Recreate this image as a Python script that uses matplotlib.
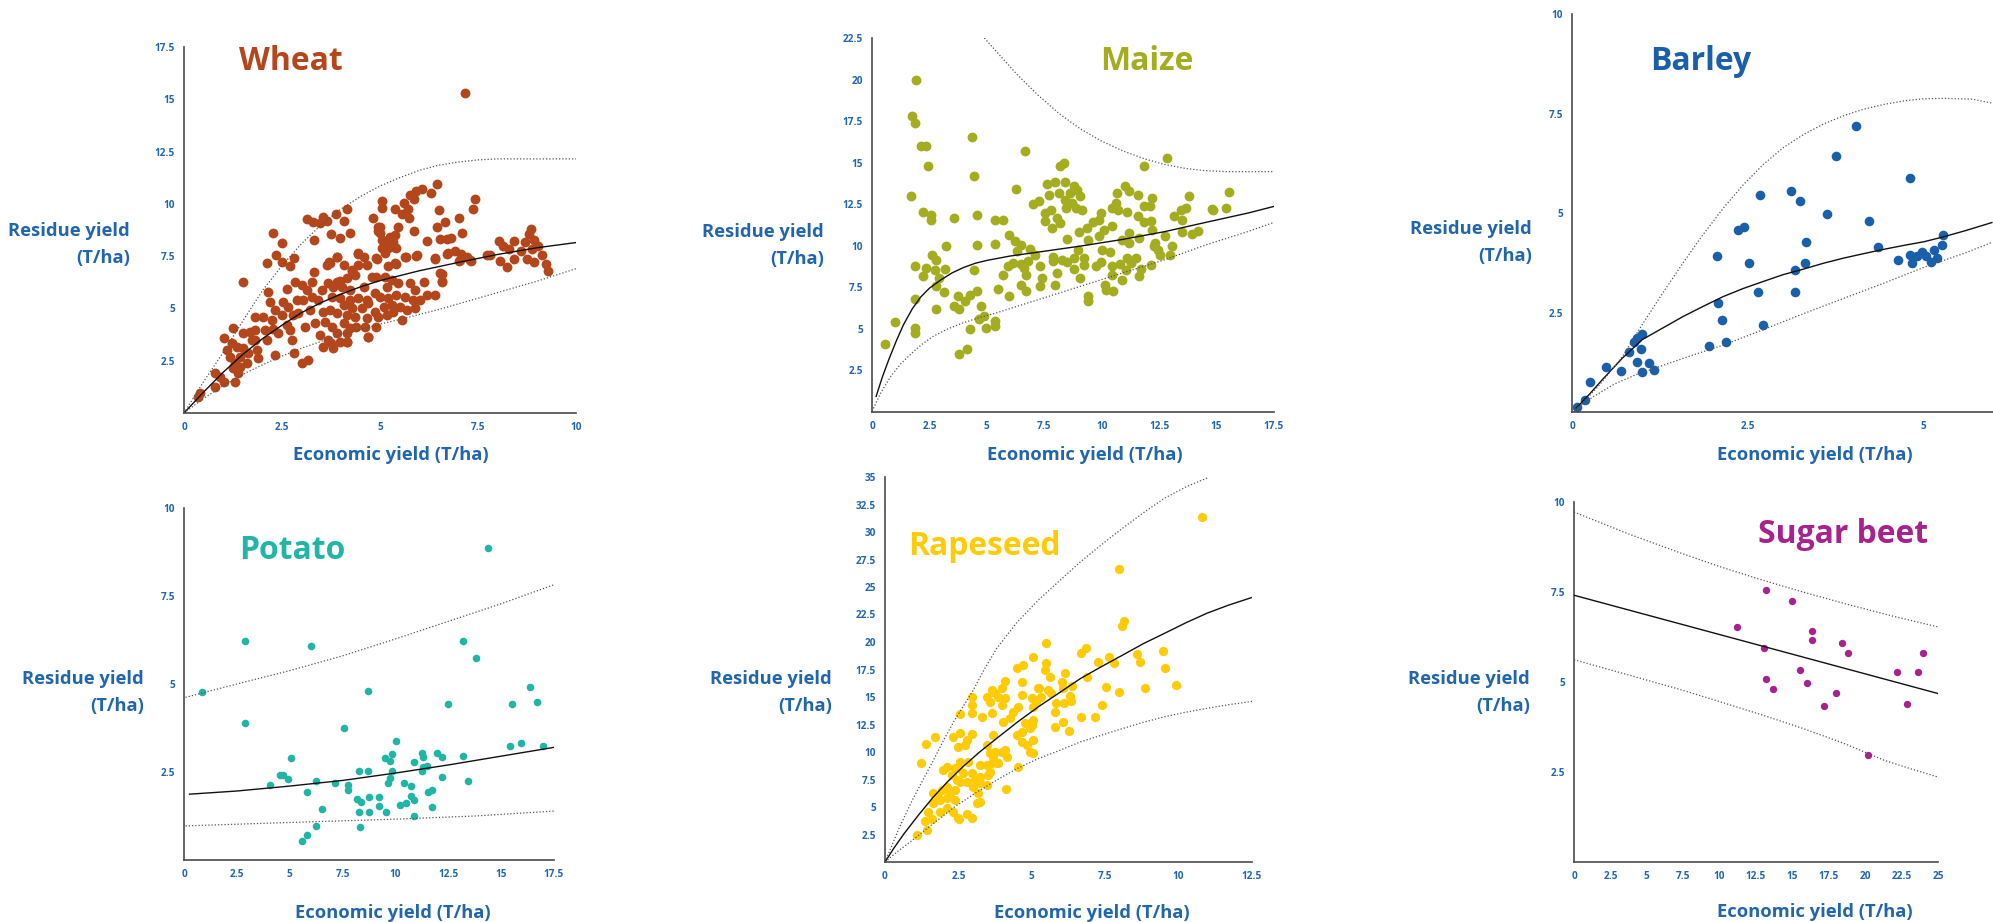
import matplotlib
matplotlib.use('Agg')
import matplotlib.pyplot as plt

W, H = 1993, 922
plt.rcParams['font.family'] = ['Open Sans', 'DejaVu Sans']
BLUE = '#2166ad'

# ---- Wheat ----
wheat_pts = [
    (0.36, 0.78), (0.40, 0.94), (0.79, 1.90), (0.79, 1.26), (1.01, 1.50), (0.92, 1.74), (1.03, 3.57), (1.09, 3.01),
    (1.17, 2.69), (1.26, 2.13), (1.30, 1.50), (1.39, 1.90), (1.34, 3.17), (1.30, 2.37), (1.22, 3.33), (1.43, 2.69),
    (1.51, 3.81), (1.51, 3.09), (1.60, 2.37), (1.64, 2.85), (1.68, 3.89), (1.73, 3.49), (1.43, 2.21), (1.26, 4.08),
    (1.50, 6.28), (1.81, 3.49), (1.85, 3.01), (1.90, 2.61), (2.02, 4.60), (2.07, 3.97), (2.11, 3.49), (2.15, 5.80),
    (2.24, 4.44), (2.28, 4.04), (2.19, 5.32), (2.32, 2.77), (2.41, 3.81), (2.49, 4.68), (2.53, 5.32), (2.62, 4.20),
    (2.66, 5.08), (2.70, 3.97), (2.75, 3.49), (2.81, 2.85), (2.83, 6.28), (2.87, 5.40), (2.92, 4.76), (3.00, 2.37),
    (3.04, 5.40), (3.09, 4.12), (3.13, 5.88), (3.17, 2.53), (3.21, 4.92), (3.26, 6.28), (3.32, 6.75), (3.34, 4.28),
    (3.43, 5.40), (3.47, 3.73), (3.51, 5.88), (3.55, 3.17), (2.13, 7.15), (2.34, 7.55), (2.51, 8.11), (2.28, 8.63),
    (2.51, 7.23), (2.70, 7.02), (2.81, 7.39), (3.13, 9.26), (3.30, 9.15), (3.47, 9.10), (3.32, 8.27), (3.55, 9.35),
    (2.62, 5.95), (3.00, 6.12), (3.26, 5.56), (3.55, 4.84), (2.79, 4.68), (2.32, 4.92), (1.81, 4.60), (1.81, 3.97),
    (3.90, 7.48), (4.45, 7.64), (4.91, 7.40), (5.13, 7.64), (5.38, 7.16), (5.64, 7.48), (5.94, 7.56), (6.40, 7.40),
    (6.74, 7.64), (7.04, 7.32), (7.30, 7.32), (7.72, 7.56), (3.72, 7.16), (3.64, 7.08), (4.07, 7.08), (4.28, 6.84),
    (4.45, 7.08), (4.66, 7.08), (4.79, 6.52), (4.91, 6.52), (5.13, 6.52), (5.30, 6.36), (4.36, 6.60), (4.15, 6.44),
    (3.90, 6.28), (3.68, 6.20), (6.53, 6.68), (6.57, 6.28), (3.81, 6.04), (4.02, 6.04), (4.23, 5.88), (4.58, 6.04),
    (4.87, 5.72), (5.17, 6.04), (5.47, 6.20), (5.77, 6.20), (5.89, 5.88), (6.11, 6.28), (6.19, 5.64), (6.40, 5.64),
    (3.77, 5.56), (3.98, 5.48), (4.23, 5.40), (4.45, 5.48), (4.66, 5.40), (5.00, 5.56), (5.21, 5.48), (5.42, 5.64),
    (5.64, 5.56), (5.85, 5.40), (6.02, 5.40), (4.07, 5.16), (4.28, 5.00), (4.53, 5.00), (4.70, 5.24), (4.87, 4.84),
    (5.09, 5.08), (5.30, 5.16), (5.51, 5.08), (5.68, 4.92), (5.89, 5.00), (3.72, 4.92), (3.90, 4.76), (4.15, 4.68),
    (4.36, 4.60), (4.66, 4.52), (4.96, 4.60), (5.17, 4.68), (5.34, 4.84), (5.55, 4.44), (4.07, 4.29), (4.23, 4.05),
    (4.40, 4.13), (4.62, 4.13), (4.91, 4.13), (3.60, 4.37), (3.77, 4.13), (3.90, 3.81), (4.15, 3.81), (4.70, 3.65),
    (3.68, 3.49), (3.98, 3.41), (3.81, 3.09), (4.15, 3.41),
    (3.65, 9.19), (3.69, 7.20), (3.74, 8.55), (3.74, 3.33), (3.89, 9.50), (3.91, 7.44), (3.97, 8.36), (3.97, 6.33),
    (4.09, 9.19), (4.17, 9.74), (4.15, 3.40), (4.23, 8.63), (4.29, 6.81), (4.44, 7.60), (4.60, 7.44), (4.70, 3.64),
    (4.82, 9.34), (4.92, 7.36), (4.95, 8.71), (5.00, 8.87), (5.05, 10.13), (5.05, 9.82), (5.10, 8.24), (5.15, 8.00),
    (5.20, 7.05), (5.35, 7.92), (5.37, 9.74), (5.40, 7.13), (5.45, 8.87), (5.56, 9.50), (5.61, 10.05), (5.66, 7.44),
    (5.71, 9.74), (5.74, 9.34), (5.76, 10.42), (5.86, 8.71), (5.91, 10.61), (5.86, 10.21), (5.93, 7.52), (6.08, 10.69),
    (6.21, 8.24), (6.31, 10.53), (6.41, 7.36), (6.46, 10.93), (6.46, 8.87), (6.50, 9.69), (6.52, 8.32), (6.57, 6.33),
    (6.57, 6.65), (6.67, 9.15), (6.72, 7.60), (6.72, 8.32), (6.82, 8.36), (6.92, 7.76), (7.02, 9.31), (7.02, 7.28),
    (7.07, 7.60), (7.10, 8.63), (7.17, 15.28), (7.22, 7.47), (7.32, 7.28), (7.37, 9.74), (7.42, 10.21),
    (4.96, 8.91), (5.00, 8.59), (5.04, 8.27), (5.13, 8.11), (5.26, 8.43), (5.34, 8.19), (5.38, 8.51), (5.42, 7.87),
    (5.21, 7.87), (5.04, 7.87),
    (7.80, 7.57), (8.03, 8.24), (8.05, 7.28), (8.13, 8.00), (8.23, 6.97), (8.28, 7.84), (8.43, 8.24), (8.43, 7.36),
    (8.59, 7.76), (8.69, 8.16), (8.74, 7.36), (8.79, 8.55), (8.84, 8.79), (8.89, 7.84), (8.94, 7.20), (8.94, 8.27),
    (9.02, 8.00), (9.14, 7.57), (9.23, 7.13), (9.29, 6.78),
]
wheat_fit = [(0, 0), (0.5, 1.0), (1.0, 1.95), (1.5, 2.8), (2.0, 3.55), (2.5, 4.2), (3.0, 4.8), (3.5, 5.28),
             (4.0, 5.68), (4.5, 6.03), (5.0, 6.33), (6.0, 6.8), (7.0, 7.2), (8.0, 7.58), (9.0, 7.9), (10.0, 8.15)]
wheat_hi = [(0, 0), (0.5, 1.5), (1.0, 2.9), (1.5, 4.4), (2.0, 5.85), (2.5, 7.05), (3.0, 8.1), (3.5, 9.0), (4.0, 9.75),
            (4.5, 10.35), (5.0, 10.85), (5.5, 11.25), (6.0, 11.6), (6.5, 11.85), (7.0, 12.0), (7.5, 12.1),
            (8.0, 12.15), (10.0, 12.15)]
wheat_lo = [(0, 0), (0.5, 0.7), (1, 1.3), (1.5, 1.85), (2, 2.3), (2.5, 2.72), (3, 3.1), (4, 3.75), (5, 4.25),
            (5.5, 4.47), (6.5, 4.95), (7.8, 5.65), (9, 6.3), (10, 6.9)]

# ---- Maize ----
maize_pts = [
    (0.55, 4.11), (1.01, 5.39), (1.69, 12.97), (1.74, 17.83), (1.89, 17.39), (1.92, 19.95), (1.89, 8.76), (1.89, 6.80),
    (1.89, 5.05), (1.89, 4.75), (2.14, 15.98), (2.35, 15.98), (2.42, 14.78), (2.20, 12.01), (2.57, 11.87), (2.57, 11.53),
    (2.24, 8.20), (2.35, 8.66), (2.62, 9.46), (2.79, 9.16), (2.75, 8.56), (2.90, 8.06), (2.79, 7.56), (2.77, 6.20),
    (3.17, 8.60), (3.15, 7.20), (3.24, 9.97), (3.57, 11.67), (3.57, 6.40), (3.76, 6.96), (3.79, 6.20), (3.79, 3.51),
    (4.12, 3.79), (4.07, 6.66), (4.25, 7.06), (4.25, 5.01), (4.34, 16.52), (4.45, 14.18), (4.45, 8.56), (4.56, 11.83),
    (4.56, 10.07), (4.56, 7.26), (4.67, 5.59), (4.76, 6.40), (4.89, 5.75), (4.95, 5.05), (5.35, 11.57), (5.37, 10.11),
    (5.35, 5.45), (5.35, 5.15), (5.50, 7.40), (5.72, 11.57), (5.72, 8.26), (5.96, 10.67), (5.96, 7.00), (5.92, 8.76),
    (6.14, 8.96), (6.29, 13.41), (6.23, 10.27), (6.32, 9.67), (6.47, 8.92), (6.50, 10.07), (6.50, 7.66), (6.60, 8.66),
    (6.65, 15.68), (6.69, 8.26), (6.69, 7.26), (6.78, 9.06), (6.87, 9.81), (7.02, 12.53), (7.11, 9.46), (7.29, 12.67),
    (7.33, 8.76), (7.33, 7.60), (7.42, 8.06), (7.51, 11.97), (7.51, 11.47), (7.61, 13.72), (7.70, 13.07), (7.79, 12.17),
    (7.84, 11.07), (7.88, 9.32), (7.88, 9.06), (7.97, 13.82), (7.97, 7.66), (8.06, 11.67), (8.06, 8.36), (8.15, 13.17),
    (8.19, 14.78), (8.19, 11.37), (8.25, 9.16), (8.34, 14.98), (8.39, 13.82), (8.39, 12.77), (8.47, 10.41), (8.47, 9.00),
    (8.43, 12.27), (8.61, 13.17), (8.70, 12.57), (8.80, 13.57), (8.80, 9.26), (8.80, 8.60), (8.89, 12.27), (8.94, 13.37),
    (8.98, 9.77), (9.02, 10.81), (9.07, 12.97), (9.13, 12.13), (9.07, 8.06), (9.22, 9.26), (9.22, 8.86), (9.35, 11.07),
    (9.40, 10.37), (9.40, 6.96), (9.40, 6.66), (9.62, 11.41), (9.75, 8.76), (9.90, 10.57), (9.90, 11.57), (9.95, 9.00),
    (9.99, 11.97), (10.02, 9.77), (10.08, 10.97), (10.13, 7.66), (10.17, 7.36), (10.35, 9.60), (10.45, 11.17),
    (10.45, 12.27), (10.45, 8.76), (10.45, 8.26), (10.48, 7.26), (10.63, 12.57), (10.68, 13.17), (10.72, 12.17),
    (10.78, 8.90), (10.87, 10.37), (10.87, 7.96), (11.00, 13.57), (11.05, 8.56), (11.09, 12.01), (11.09, 9.26),
    (11.18, 13.27), (11.18, 10.77), (11.18, 10.17), (11.27, 8.96), (11.49, 9.26), (11.58, 13.07), (11.58, 11.77),
    (11.64, 10.47), (11.64, 8.16), (11.73, 8.60), (11.82, 14.78), (11.82, 12.41), (11.86, 11.41), (12.09, 12.37),
    (12.13, 11.47), (12.19, 12.87), (12.15, 8.86), (12.19, 10.97), (12.28, 9.97), (12.33, 10.17), (12.46, 9.77),
    (12.55, 9.46), (12.74, 10.57), (12.86, 15.28), (12.96, 9.46), (13.07, 9.97), (13.14, 11.81), (13.47, 12.13),
    (13.51, 11.57), (13.51, 10.83), (13.69, 12.27), (13.80, 12.97), (13.93, 10.71), (14.20, 10.91), (14.79, 12.21),
    (14.84, 12.17), (15.39, 12.27), (15.54, 13.23),
]
maize_fit = [(0.18, 0.94), (0.45, 2.1), (0.73, 3.15), (1.05, 4.25), (1.37, 5.25), (1.75, 6.2), (2.11, 6.9),
             (2.5, 7.45), (3.0, 7.95), (3.5, 8.38), (4.0, 8.7), (4.5, 8.95), (5.0, 9.12), (6.0, 9.38), (7.24, 9.62),
             (9.07, 9.98), (10.9, 10.38), (12.74, 10.85), (14.57, 11.42), (16.4, 11.98), (17.5, 12.37)]
maize_hi = [(4.89, 22.5), (5.6, 21.4), (6.32, 20.3), (7.2, 19.1), (8.15, 17.95), (9.05, 17.05), (9.99, 16.3),
            (10.9, 15.72), (11.82, 15.25), (12.7, 14.9), (13.65, 14.65), (14.5, 14.52), (15.48, 14.46), (17.5, 14.46)]
maize_lo = [(0, 0.04), (0.4, 1.2), (0.82, 2.15), (1.25, 2.9), (1.74, 3.55), (2.2, 4.1), (2.66, 4.55), (3.3, 5.0),
            (3.94, 5.35), (4.6, 5.65), (5.41, 5.96), (7.24, 6.76), (9.07, 7.56), (10.9, 8.36), (12.74, 9.16),
            (14.57, 10.07), (16.4, 10.87), (17.5, 11.41)]

# ---- Barley ----
barley_pts = [
    (0.07, 0.13), (0.18, 0.31), (0.25, 0.75), (0.49, 1.13), (0.70, 1.02), (0.81, 1.52), (0.88, 1.77), (0.92, 1.86),
    (0.99, 1.97), (0.98, 1.59), (0.92, 1.26), (0.99, 1.00), (1.09, 1.23), (1.16, 1.06), (1.95, 1.65), (2.06, 3.93),
    (2.08, 2.75), (2.13, 2.30), (2.19, 1.77), (2.36, 4.58), (2.45, 4.66), (2.51, 3.74), (2.68, 5.46), (2.65, 3.01),
    (2.72, 2.19), (3.12, 5.55), (3.17, 3.57), (3.17, 3.01), (3.24, 5.31), (3.31, 3.74), (3.33, 4.26), (3.62, 4.97),
    (3.76, 6.44), (4.04, 7.19), (4.22, 4.79), (4.35, 4.14), (4.64, 3.82), (4.81, 5.87), (4.81, 3.95), (4.84, 3.74),
    (4.90, 3.91), (4.97, 4.03), (5.04, 3.91), (5.11, 3.77), (5.14, 4.06), (5.19, 3.87), (5.26, 4.20), (5.28, 4.45),
]
barley_fit = [(0.06, 0.1), (0.25, 0.45), (0.43, 0.81), (0.72, 1.36), (1.0, 1.82), (1.3, 2.12), (1.58, 2.4),
              (1.86, 2.65), (2.15, 2.9), (2.43, 3.1), (2.72, 3.28), (3.0, 3.45), (3.29, 3.59), (3.58, 3.74),
              (3.87, 3.87), (4.15, 3.98), (4.44, 4.09), (4.73, 4.19), (5.01, 4.28), (5.3, 4.41), (5.6, 4.56),
              (5.97, 4.76)]
barley_hi = [(0.03, 0), (0.4, 0.7), (0.72, 1.40), (1.0, 2.2), (1.29, 2.99), (1.58, 3.75), (1.86, 4.45),
             (2.15, 5.12), (2.43, 5.7), (2.72, 6.22), (3.01, 6.65), (3.3, 6.98), (3.58, 7.24), (3.87, 7.45),
             (4.15, 7.61), (4.44, 7.73), (4.73, 7.82), (5.0, 7.87), (5.30, 7.88), (5.70, 7.86), (5.97, 7.76)]
barley_lo = [(0, 0), (0.3, 0.38), (0.6, 0.7), (0.9, 0.93), (1.29, 1.17), (1.7, 1.42), (2.15, 1.68), (2.72, 2.07),
             (3.29, 2.47), (3.87, 2.86), (4.44, 3.24), (5.01, 3.64), (5.58, 3.99), (5.97, 4.26)]

# ---- Potato ----
potato_pts = [
    (0.86, 4.76), (2.87, 6.21), (2.87, 3.89), (4.07, 2.13), (4.52, 2.42), (4.70, 2.42), (4.93, 2.29), (5.08, 2.91),
    (5.60, 0.55), (5.83, 0.71), (5.83, 1.94), (6.03, 6.09), (6.22, 2.25), (6.22, 0.97), (6.54, 1.44), (7.16, 2.18),
    (7.57, 3.74), (7.76, 2.13), (7.76, 1.99), (8.19, 1.73), (8.28, 2.53), (8.28, 1.37), (8.32, 0.93), (8.37, 1.66),
    (8.69, 2.53), (8.69, 4.81), (8.73, 1.80), (8.73, 1.37), (9.20, 1.80), (9.20, 1.54), (9.52, 2.91), (9.54, 1.37),
    (9.63, 2.18), (9.72, 2.34), (9.72, 2.82), (9.82, 3.01), (9.82, 2.53), (10.04, 3.38), (10.23, 1.56), (10.42, 2.20),
    (10.51, 1.61), (10.72, 2.10), (10.76, 1.83), (10.87, 1.71), (10.89, 2.78), (10.89, 1.25), (11.28, 3.05),
    (11.32, 2.94), (11.28, 2.53), (11.32, 2.65), (11.50, 2.67), (11.54, 1.92), (11.75, 1.99), (11.71, 1.50),
    (11.97, 3.05), (12.20, 2.94), (12.20, 2.37), (12.50, 4.43), (13.19, 6.21), (13.19, 2.96), (13.42, 2.25),
    (13.81, 5.75), (14.37, 8.86), (15.44, 3.25), (15.50, 4.43), (15.96, 3.32), (16.38, 4.91), (16.69, 4.50),
    (16.99, 3.25),
]
potato_fit = [(0.26, 1.87), (2.5, 1.96), (5, 2.1), (7.5, 2.26), (10, 2.47), (12.5, 2.7), (15, 2.95), (17.5, 3.2)]
potato_hi = [(0.07, 4.62), (2.5, 5.0), (5, 5.38), (7.5, 5.8), (10, 6.28), (12.5, 6.78), (15, 7.28), (17.5, 7.82)]
potato_lo = [(0.07, 0.97), (6.26, 1.09), (10, 1.16), (13.75, 1.25), (17.5, 1.39)]

# ---- Rapeseed ----
rape_pts = [
    (1.08, 2.45), (1.44, 2.94), (1.36, 3.73), (1.59, 3.88), (1.48, 4.58), (1.65, 5.39), (1.87, 5.64), (1.65, 6.30),
    (1.93, 6.55), (2.10, 5.79), (1.87, 4.58), (2.10, 4.88), (2.33, 4.58), (2.50, 3.97), (2.38, 5.64), (2.21, 6.24),
    (2.38, 6.55), (2.55, 7.30), (2.10, 6.85), (1.82, 5.94), (1.99, 8.36), (2.10, 8.67), (2.27, 7.91), (2.44, 7.45),
    (2.50, 8.52), (2.67, 8.06), (2.84, 9.12), (2.55, 9.12), (2.38, 8.52), (2.78, 7.30), (2.95, 8.06), (3.07, 7.45),
    (3.01, 6.85), (3.24, 7.15), (3.18, 6.24), (3.12, 5.33), (3.24, 7.76), (3.46, 7.00), (3.52, 7.91), (3.58, 8.21),
    (3.63, 8.97), (3.46, 8.82), (3.24, 8.82), (3.80, 8.97), (3.58, 9.88), (3.46, 10.64), (3.75, 10.03), (3.97, 10.03),
    (4.14, 9.58), (3.69, 9.58), (3.86, 8.97), (4.09, 10.18), (4.54, 8.67), (1.23, 8.97), (1.39, 10.70), (1.70, 11.39),
    (2.33, 11.39), (2.55, 11.70), (2.50, 10.48), (2.72, 10.64), (2.78, 11.09), (2.97, 11.64), (3.69, 11.55),
    (2.55, 13.45), (2.97, 15.03), (2.97, 14.27), (2.95, 13.51), (3.29, 13.21), (3.46, 15.03), (3.63, 13.51),
    (3.58, 14.58), (3.63, 15.64), (3.75, 15.33), (3.86, 15.03), (3.97, 15.79), (4.09, 14.88), (3.97, 14.27),
    (4.09, 16.48), (4.03, 12.76), (4.26, 13.06), (4.37, 13.67), (4.48, 11.55), (4.66, 11.85), (4.77, 12.61),
    (4.66, 10.94), (4.83, 10.64), (4.94, 10.03), (5.05, 9.88), (5.05, 11.09), (4.94, 12.15), (5.00, 12.45),
    (4.54, 14.06), (4.68, 15.18), (5.00, 14.88), (5.05, 14.12), (5.16, 14.58), (4.66, 16.39), (4.69, 17.91),
    (4.48, 17.61), (5.03, 18.67), (5.22, 15.79), (5.03, 12.91), (2.80, 4.40), (2.95, 3.97), (3.24, 5.42),
    (2.52, 3.94), (4.11, 6.64),
    (5.48, 19.88), (5.48, 18.06), (5.45, 17.46), (5.63, 16.79), (5.23, 15.79), (5.55, 15.63), (5.66, 15.33),
    (5.30, 14.97), (5.16, 14.72), (5.81, 14.48), (5.78, 13.60), (5.78, 12.30), (6.02, 16.39), (6.06, 15.79),
    (6.12, 17.21), (6.09, 14.42), (6.05, 12.69), (6.28, 11.90), (6.31, 15.09), (6.35, 14.66), (6.38, 16.03),
    (6.67, 18.97), (6.84, 19.49), (6.88, 16.85), (6.67, 13.21), (7.14, 13.21), (7.24, 18.15), (7.38, 14.27),
    (7.53, 15.94), (7.64, 18.61), (7.81, 18.06), (7.96, 26.62), (7.96, 15.48), (8.06, 21.49), (8.13, 21.92),
    (8.57, 18.91), (8.67, 18.21), (8.84, 15.85), (9.46, 19.19), (9.53, 17.61), (9.92, 16.09), (10.79, 31.36),
]
rape_fit = [(0, 0), (0.3, 1.25), (0.65, 2.58), (1.15, 4.3), (1.65, 5.92), (2.15, 7.35), (2.65, 8.65), (3.2, 9.95),
            (3.80, 11.23), (4.5, 12.7), (5.23, 14.12), (6.0, 15.5), (6.67, 16.70), (7.4, 17.8), (8.10, 18.82),
            (8.8, 19.85), (9.53, 20.80), (10.25, 21.75), (10.97, 22.62), (11.7, 23.35), (12.5, 24.05)]
rape_hi = [(0, 0), (0.45, 2.9), (0.93, 5.62), (1.3, 7.5), (1.65, 9.26), (2.0, 11.1), (2.37, 12.9), (2.7, 14.3),
           (3.0, 15.6), (3.4, 17.6), (3.80, 19.4), (4.5, 21.8), (5.23, 23.83), (6.0, 25.7), (6.67, 27.32),
           (7.4, 28.9), (8.10, 30.36), (8.8, 31.75), (9.53, 33.09), (10.25, 34.1), (10.97, 34.91)]
rape_lo = [(0, 0), (0.45, 1.0), (0.93, 1.97), (1.6, 3.4), (2.37, 5.01), (3.1, 6.3), (3.80, 7.44), (4.5, 8.5),
           (5.23, 9.41), (6.0, 10.2), (6.67, 10.93), (7.4, 11.55), (8.10, 12.14), (8.8, 12.7), (9.53, 13.21),
           (10.25, 13.62), (10.97, 13.97), (11.7, 14.3), (12.5, 14.6)]

# ---- Sugar beet ----
beet_pts = [
    (11.17, 6.53), (13.19, 7.55), (13.08, 5.94), (13.22, 5.09), (13.66, 4.81), (14.99, 7.24), (15.49, 5.33),
    (16.02, 4.98), (16.32, 6.41), (16.32, 6.18), (17.16, 4.34), (17.99, 4.70), (18.40, 6.08), (18.85, 5.81),
    (20.20, 2.97), (22.15, 5.28), (22.87, 4.40), (23.61, 5.28), (24.00, 5.81),
]
beet_fit = [(0, 7.41), (25, 4.68)]
beet_hi = [(0, 9.72), (3.7, 9.12), (7.48, 8.56), (10.2, 8.18), (13.03, 7.82), (15.8, 7.49), (18.57, 7.18),
           (21.8, 6.84), (25, 6.53)]
beet_lo = [(0, 5.62), (3.7, 5.2), (7.48, 4.77), (10.2, 4.43), (13.03, 4.07), (15.8, 3.7), (18.57, 3.29),
           (21.34, 2.82), (23.2, 2.58), (25, 2.36)]

fig = plt.figure(figsize=(W / 100, H / 100), dpi=100)
renderer = fig.canvas.get_renderer()


def px(x, y):
    return x / W, 1 - y / H


def fit_size(text, width):
    # font size giving the wanted width in pixels
    t = fig.text(0, 0, text, fontsize=10, fontweight='bold')
    w = t.get_window_extent(renderer).width
    t.remove()
    return 10 * width / w


LAB_SIZE = fit_size('Residue yield', 121)
TITLE_SIZE = fit_size('Wheat', 104)
TICK_SIZE = fit_size('17.5', 20)


def panel(box, xlim, ylim, xticks, yticks, pts, fit, hi, lo, color, size,
          title, tpos, tha, ylab_x, ylab_y, xlab_x, xlab_y):
    l, t, r, b = box
    ax = fig.add_axes([l / W, 1 - b / H, (r - l) / W, (b - t) / H])
    ax.set_xlim(*xlim)
    ax.set_ylim(*ylim)
    for s in ['top', 'right']:
        ax.spines[s].set_visible(False)
    for s in ['left', 'bottom']:
        ax.spines[s].set_color('#4a4a4a')
        ax.spines[s].set_linewidth(1.2)
    ax.set_xticks(xticks)
    ax.set_yticks(yticks)
    ax.set_xticklabels(['%g' % v for v in xticks])
    ax.set_yticklabels(['%g' % v for v in yticks])
    ax.tick_params(length=0, pad=6.5, labelsize=TICK_SIZE, labelcolor=BLUE)
    for lab in ax.get_xticklabels() + ax.get_yticklabels():
        lab.set_fontweight('bold')
    ax.scatter([p[0] for p in pts], [p[1] for p in pts], s=size, color=color,
               linewidths=0, zorder=2)
    ax.plot([p[0] for p in fit], [p[1] for p in fit], color='#111111', lw=1.0, zorder=3)
    for band in (hi, lo):
        ax.plot([p[0] for p in band], [p[1] for p in band], color='#555555', lw=0.9,
                linestyle=(0, (1, 1.6)), zorder=3)
    fig.text(*px(*tpos), title, color=color, fontsize=TITLE_SIZE, fontweight='bold',
             ha=tha, va='baseline')
    fig.text(*px(ylab_x, ylab_y), 'Residue yield', color=BLUE, fontsize=LAB_SIZE,
             fontweight='bold', ha='right', va='baseline')
    fig.text(*px(ylab_x, ylab_y + 27), '(T/ha)', color=BLUE, fontsize=LAB_SIZE,
             fontweight='bold', ha='right', va='baseline')
    fig.text(*px(xlab_x, xlab_y), 'Economic yield (T/ha)', color=BLUE, fontsize=LAB_SIZE,
             fontweight='bold', ha='center', va='baseline')
    return ax


panel((184, 47, 576, 413), (0, 10), (0, 17.5), [0, 2.5, 5, 7.5, 10],
      [2.5, 5, 7.5, 10, 12.5, 15, 17.5], wheat_pts, wheat_fit, wheat_hi, wheat_lo,
      '#b4461b', 50, 'Wheat', (239, 70), 'left', 130, 236, 391, 460)
panel((872, 38, 1274, 412), (0, 17.5), (0, 22.5), [0, 2.5, 5, 7.5, 10, 12.5, 15, 17.5],
      [2.5, 5, 7.5, 10, 12.5, 15, 17.5, 20, 22.5], maize_pts, maize_fit, maize_hi, maize_lo,
      '#a4ac1f', 50, 'Maize', (1100, 70), 'left', 824, 237, 1085, 460)
panel((1572, 14, 1994, 412), (0, 6), (0, 10), [0, 2.5, 5],
      [2.5, 5, 7.5, 10], barley_pts, barley_fit, barley_hi, barley_lo,
      '#1a5fa9', 48, 'Barley', (1650, 70), 'left', 1532, 234, 1815, 460)
panel((184, 508, 554, 860), (0, 17.5), (0, 10), [0, 2.5, 5, 7.5, 10, 12.5, 15, 17.5],
      [2.5, 5, 7.5, 10], potato_pts, potato_fit, potato_hi, potato_lo,
      '#20b5a5', 30, 'Potato', (239, 559), 'left', 144, 684, 393, 918)
panel((885, 477, 1252, 862), (0, 12.5), (0, 35), [0, 2.5, 5, 7.5, 10, 12.5],
      [2.5, 5, 7.5, 10, 12.5, 15, 17.5, 20, 22.5, 25, 27.5, 30, 32.5, 35],
      rape_pts, rape_fit, rape_hi, rape_lo,
      '#ffcb05', 44, 'Rapeseed', (908, 555), 'left', 832, 684, 1092, 918)
panel((1574, 502, 1938, 862), (0, 25), (0, 10), [0, 2.5, 5, 7.5, 10, 12.5, 15, 17.5, 20, 22.5, 25],
      [2.5, 5, 7.5, 10], beet_pts, beet_fit, beet_hi, beet_lo,
      '#a8228e', 28, 'Sugar beet', (1928, 543), 'right', 1530, 684, 1815, 917)

fig.savefig('out.png', dpi=100)
